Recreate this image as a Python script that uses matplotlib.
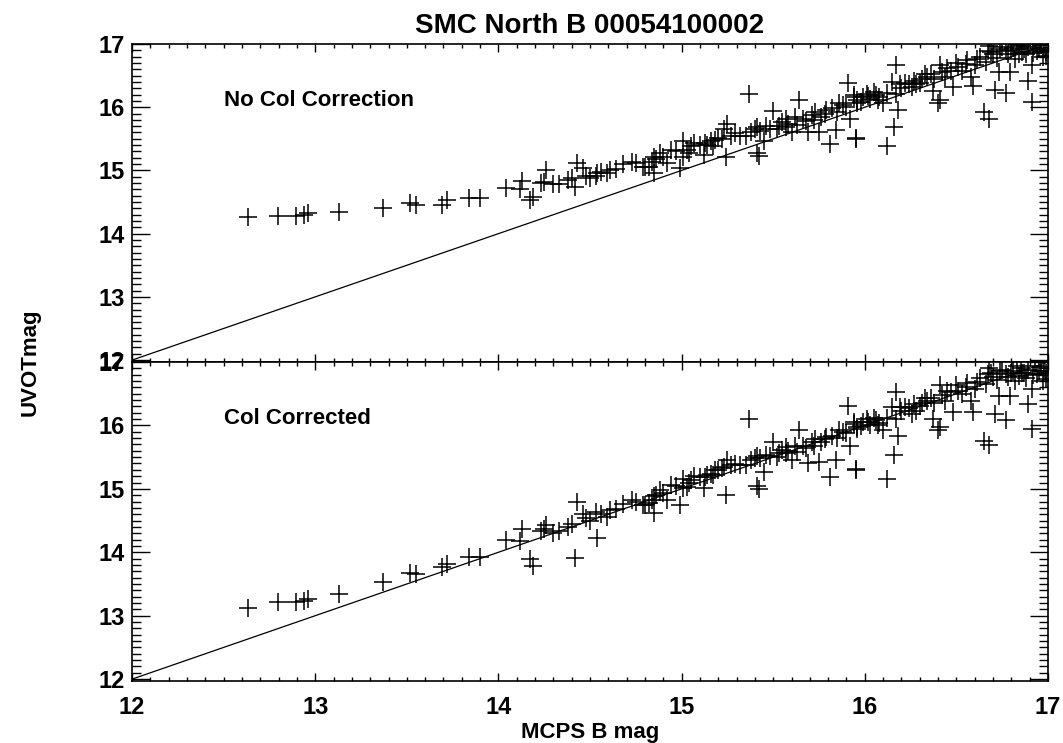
import numpy as np
import matplotlib
matplotlib.use("Agg")
import matplotlib.pyplot as plt
from matplotlib.ticker import MultipleLocator

# MCPS B magnitude of each star (same stars in both panels)
mcps_b = [12.635, 12.795, 12.895, 12.94, 12.96, 13.13, 13.37, 13.52, 13.55, 13.69,
          13.72, 13.84, 13.90, 14.04, 14.12, 14.13, 14.17, 14.19, 14.23, 14.25,
          14.26, 14.30, 14.33, 14.38, 14.42, 14.43, 14.46, 14.48, 14.50, 14.53,
          14.54, 14.59, 14.61, 14.64, 14.73, 14.75, 14.80,
          14.79, 14.82, 14.84, 14.85, 14.85, 14.88, 14.92, 14.94, 14.99, 15.01,
          15.01, 15.03, 15.04, 15.05, 15.12, 15.13, 15.16, 15.17, 15.20, 15.23,
          15.24, 15.25, 15.29, 15.32, 15.35, 15.37, 15.40, 15.41, 15.41, 15.42,
          15.45, 15.46, 15.50, 15.52, 15.55, 15.57, 15.60, 15.62, 15.64, 15.66,
          15.69, 15.71, 15.73, 15.76, 15.75, 15.81, 15.82, 15.84, 15.86, 15.91,
          15.92, 15.95, 15.94, 15.96, 15.14, 15.18, 15.57, 15.72, 15.79, 15.88,
          15.94, 15.95, 15.96, 15.99, 16.01, 16.03, 16.06, 16.07, 16.10, 16.12,
          16.15, 16.16, 16.17, 16.17, 16.18, 16.19, 16.22, 16.26, 16.28, 16.31,
          16.34, 16.36, 16.37, 16.40, 16.41, 16.41, 16.44, 16.47, 16.48, 16.51,
          16.55, 16.58, 16.59, 16.61, 16.65, 16.68, 16.67, 16.70, 16.71, 16.73,
          16.77, 16.77, 16.79, 16.81, 16.84, 16.87, 16.89, 16.91, 16.91, 16.94,
          16.97, 16.98, 16.68, 16.83, 16.74, 16.88, 16.99,
          16.02, 16.05, 16.08, 16.12, 16.20, 16.24, 16.27, 16.30, 16.33, 16.38,
          16.42, 16.45, 16.50, 16.53, 16.56, 16.60, 16.63, 16.66, 16.69, 16.72,
          16.75, 16.78, 16.80, 16.82, 16.85, 16.86, 16.89, 16.92, 16.93, 16.95,
          16.96, 16.99, 15.98, 15.90, 15.85, 15.78, 15.68, 15.63, 15.58, 15.53,
          15.48, 15.43, 15.38, 15.27, 15.22, 15.10, 15.07, 14.97, 14.90, 14.86,
          14.68, 14.56, 14.40]

# UVOT magnitude without colour correction
uvot_raw = [14.27, 14.28, 14.28, 14.30, 14.33, 14.34, 14.41, 14.48, 14.46, 14.46,
            14.53, 14.57, 14.57, 14.72, 14.71, 14.83, 14.54, 14.58, 14.80, 14.81,
            15.00, 14.78, 14.79, 14.85, 14.73, 15.12, 15.04, 14.91, 14.88, 14.91,
            14.96, 14.96, 15.01, 15.02, 15.14, 15.12, 15.06,
            15.06, 15.05, 15.14, 15.22, 14.96, 15.27, 15.12, 15.32, 15.04, 15.22,
            15.47, 15.33, 15.27, 15.38, 15.25, 15.43, 15.46, 15.38, 15.52, 15.66,
            15.22, 15.73, 15.59, 15.54, 15.54, 16.21, 15.65, 15.68, 15.27, 15.23,
            15.46, 15.70, 15.94, 15.66, 15.77, 15.82, 15.61, 15.85, 16.11, 15.82,
            15.61, 15.87, 15.92, 15.85, 15.61, 15.42, 15.98, 15.64, 16.06, 16.39,
            15.82, 15.49, 16.16, 16.06, 15.40, 15.48, 15.69, 15.79, 15.95, 16.03,
            16.19, 15.51, 16.11, 16.16, 16.21, 16.13, 16.19, 16.11, 16.06, 15.39,
            16.40, 15.69, 16.66, 16.21, 15.95, 16.37, 16.39, 16.32, 16.37, 16.45,
            16.47, 16.53, 16.26, 16.06, 16.11, 16.66, 16.47, 16.58, 16.32, 16.63,
            16.68, 16.47, 16.34, 16.76, 15.93, 15.82, 16.89, 16.84, 16.28, 16.55,
            16.22, 16.89, 16.55, 16.94, 16.84, 16.92, 16.42, 16.08, 16.66, 16.89,
            16.79, 16.94, 16.97, 16.98, 16.92, 16.84, 16.81,
            16.18, 16.24, 16.16, 16.22, 16.30, 16.36, 16.42, 16.38, 16.52, 16.44,
            16.55, 16.62, 16.70, 16.58, 16.74, 16.66, 16.80, 16.72, 16.88, 16.78,
            16.95, 16.84, 16.90, 16.76, 16.97, 16.88, 16.95, 16.86, 17.00, 16.92,
            16.98, 16.88, 16.08, 16.00, 15.92, 15.90, 15.78, 15.72, 15.74, 15.70,
            15.66, 15.62, 15.60, 15.55, 15.50, 15.40, 15.43, 15.30, 15.22, 15.18,
            15.10, 14.98, 14.88]

# UVOT magnitude after colour correction
uvot_cor = [13.12, 13.21, 13.22, 13.23, 13.27, 13.35, 13.53, 13.68, 13.66, 13.76,
            13.82, 13.93, 13.93, 14.20, 14.17, 14.36, 13.89, 13.78, 14.34, 14.36,
            14.43, 14.31, 14.33, 14.40, 13.91, 14.80, 14.61, 14.54, 14.49, 14.64,
            14.23, 14.56, 14.67, 14.69, 14.82, 14.80, 14.75,
            14.75, 14.77, 14.82, 14.89, 14.62, 14.98, 14.82, 15.06, 14.75, 15.01,
            15.16, 15.03, 15.09, 15.14, 15.01, 15.19, 15.24, 15.22, 15.29, 15.35,
            14.90, 15.45, 15.39, 15.37, 15.37, 16.10, 15.48, 15.51, 15.04, 14.99,
            15.27, 15.53, 15.74, 15.50, 15.61, 15.66, 15.45, 15.68, 15.92, 15.68,
            15.40, 15.74, 15.79, 15.74, 15.42, 15.18, 15.84, 15.46, 15.92, 16.30,
            15.68, 15.30, 16.05, 15.95, 15.22, 15.29, 15.56, 15.68, 15.82, 15.89,
            16.02, 15.32, 15.97, 16.05, 16.10, 16.00, 16.08, 16.00, 15.92, 15.16,
            16.29, 15.53, 16.52, 16.10, 15.83, 16.29, 16.29, 16.18, 16.23, 16.36,
            16.39, 16.44, 16.10, 15.92, 15.97, 16.63, 16.39, 16.52, 16.21, 16.55,
            16.60, 16.39, 16.21, 16.68, 15.76, 15.69, 16.81, 16.76, 16.18, 16.47,
            16.08, 16.81, 16.47, 16.86, 16.78, 16.83, 16.34, 15.95, 16.57, 16.81,
            16.70, 16.86, 16.91, 16.94, 16.86, 16.75, 16.73,
            16.06, 16.12, 16.04, 16.12, 16.22, 16.27, 16.34, 16.30, 16.44, 16.36,
            16.48, 16.55, 16.63, 16.50, 16.67, 16.58, 16.74, 16.65, 16.82, 16.71,
            16.88, 16.77, 16.83, 16.70, 16.90, 16.82, 16.88, 16.80, 16.93, 16.86,
            16.92, 16.82, 15.99, 15.88, 15.80, 15.78, 15.65, 15.58, 15.60, 15.56,
            15.52, 15.48, 15.45, 15.38, 15.33, 15.18, 15.20, 15.05, 14.94, 14.90,
            14.76, 14.60, 14.45]

one_to_one = [12, 17]
panel_labels = ["No Col Correction", "Col Corrected"]

plt.rcParams["font.family"] = ["Liberation Sans", "DejaVu Sans"]
plt.rcParams["font.weight"] = "bold"

fig = plt.figure(figsize=(10.63, 7.43), dpi=100)
ax1 = fig.add_axes([0.1242, 0.5128, 0.8617, 0.4280])
ax2 = fig.add_axes([0.1242, 0.0834, 0.8617, 0.4294], sharex=ax1)

for ax, yv, lab in [(ax1, uvot_raw, panel_labels[0]), (ax2, uvot_cor, panel_labels[1])]:
    ax.plot(mcps_b, yv, "+", color="black", ms=13, mew=1.1)
    ax.plot(one_to_one, one_to_one, color="black", lw=0.9)
    ax.set_xlim(12, 17)
    ax.set_ylim(11.97, 17.0)
    ax.xaxis.set_major_locator(MultipleLocator(1))
    ax.xaxis.set_minor_locator(MultipleLocator(0.1))
    ax.yaxis.set_major_locator(MultipleLocator(1))
    ax.yaxis.set_minor_locator(MultipleLocator(0.1))
    ax.tick_params(axis="both", which="both", direction="in", top=True, right=True,
                   colors="black", width=1.0)
    ax.tick_params(axis="x", which="major", length=5.5, pad=11, labelsize=17)
    ax.tick_params(axis="x", which="minor", length=2.8)
    ax.tick_params(axis="y", which="major", length=13, pad=5, labelsize=17)
    ax.tick_params(axis="y", which="minor", length=6.5)
    for s in ax.spines.values():
        s.set_linewidth(1.2)
    ax.text(12.5, 16.11, lab, ha="left", va="center", fontsize=16, fontweight="bold")

ax1.tick_params(axis="x", labelbottom=False)
ax1.set_title("SMC North B 00054100002", fontsize=20, fontweight="bold", pad=8)
ax2.set_xlabel("MCPS B mag", fontsize=16, fontweight="bold", labelpad=2)
fig.text(0.028, 0.513, "UVOTmag", rotation=90, ha="center", va="center",
         fontsize=16, fontweight="bold")

fig.savefig("out.png", dpi=100)
